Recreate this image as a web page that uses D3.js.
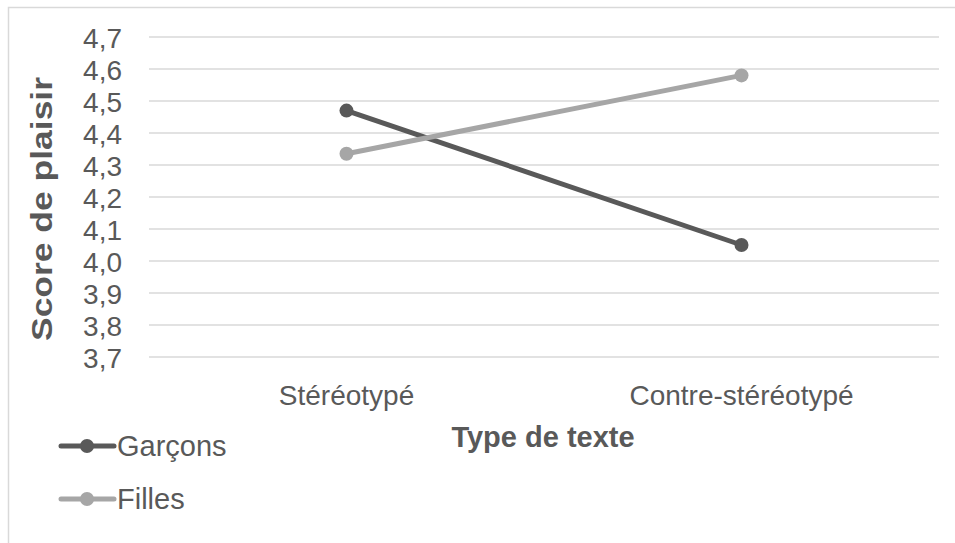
<!DOCTYPE html>
<html>
<head>
<meta charset="utf-8">
<script src="https://cdn.jsdelivr.net/npm/d3@7"></script>
<style>
  body { margin: 0; background: #fff; }
  svg text { font-family: "Liberation Sans", Arial, sans-serif; fill: #595959; }
</style>
</head>
<body>
<div id="chart"></div>
<script>
// data
const categories = ["Stéréotypé", "Contre-stéréotypé"]
const seriesNames = ["Garçons", "Filles"]
const garcons = [4.47, 4.05]
const filles = [4.335, 4.58]
const yTicks = [3.7, 3.8, 3.9, 4.0, 4.1, 4.2, 4.3, 4.4, 4.5, 4.6, 4.7]
const seriesColors = ["#595959", "#a6a6a6"]

const width = 955, height = 543
const plot = {left: 149, right: 939, top: 37, bottom: 357}

const svg = d3.select('#chart').append('svg')
    .attr('width', width)
    .attr('height', height)

// chart frame (cut by the picture on right and bottom)
svg.append('rect')
    .attr('x', 8.5).attr('y', 7.5)
    .attr('width', 960).attr('height', 560)
    .attr('fill', 'none')
    .attr('stroke', '#d9d9d9')
    .attr('stroke-width', 1.5)

const x = d3.scaleBand()
    .domain(categories)
    .range([plot.left, plot.right])

const y = d3.scaleLinear()
    .domain([3.7, 4.7])
    .range([plot.bottom, plot.top])

const fmt = v => d3.format('.1f')(v).replace('.', ',')

// gridlines
svg.append('g')
    .selectAll('line')
    .data(yTicks)
    .join('line')
    .attr('x1', plot.left).attr('x2', plot.right)
    .attr('y1', d => y(d)).attr('y2', d => y(d))
    .attr('stroke', '#d9d9d9')
    .attr('stroke-width', 1.5)

// y axis labels
const yAxis = svg.append('g')
    .attr('transform', `translate(${plot.left - 27},0)`)
    .call(d3.axisLeft(y).tickValues(yTicks).tickFormat(fmt).tickSize(0).tickPadding(0))
yAxis.select('.domain').remove()
yAxis.attr('font-family', null)
yAxis.selectAll('text')
    .style('font-size', '28px')
    .attr('dy', '0.36em')
    .attr('fill', '#595959')

// x axis labels
const xAxis = svg.append('g')
    .attr('transform', `translate(0,405)`)
    .call(d3.axisBottom(x).tickSize(0).tickPadding(0))
xAxis.select('.domain').remove()
xAxis.attr('font-family', null)
xAxis.selectAll('text')
    .style('font-size', '28px')
    .attr('y', 0)
    .attr('dy', 0)
    .attr('fill', '#595959')

// axis titles
svg.append('text')
    .attr('x', (plot.left + plot.right) / 2 - 1)
    .attr('y', 447)
    .attr('text-anchor', 'middle')
    .style('font-size', '29px')
    .style('font-weight', 'bold')
    .text('Type de texte')

svg.append('text')
    .attr('transform', `translate(52,209) rotate(-90)`)
    .attr('text-anchor', 'middle')
    .attr('textLength', 264)
    .attr('lengthAdjust', 'spacingAndGlyphs')
    .style('font-size', '29px')
    .style('font-weight', 'bold')
    .text('Score de plaisir')

// series
const series = [garcons, filles]
const line = d3.line()
    .x((d, i) => x(categories[i]) + x.bandwidth() / 2)
    .y(d => y(d))

series.forEach((vals, s) => {
    const g = svg.append('g')
    g.append('path')
        .datum(vals)
        .attr('d', line)
        .attr('fill', 'none')
        .attr('stroke', seriesColors[s])
        .attr('stroke-width', 5)
    g.selectAll('circle')
        .data(vals)
        .join('circle')
        .attr('cx', (d, i) => x(categories[i]) + x.bandwidth() / 2)
        .attr('cy', d => y(d))
        .attr('r', 7)
        .attr('fill', seriesColors[s])
})

// legend
const legend = svg.append('g')
seriesNames.forEach((name, s) => {
    const ly = 446 + s * 53
    legend.append('line')
        .attr('x1', 61).attr('x2', 114)
        .attr('y1', ly).attr('y2', ly)
        .attr('stroke', seriesColors[s])
        .attr('stroke-width', 5)
        .attr('stroke-linecap', 'round')
    legend.append('circle')
        .attr('cx', 87).attr('cy', ly)
        .attr('r', 7)
        .attr('fill', seriesColors[s])
    legend.append('text')
        .attr('x', 117).attr('y', ly)
        .attr('dy', '0.36em')
        .style('font-size', '29px')
        .text(name)
})
</script>
</body>
</html>
